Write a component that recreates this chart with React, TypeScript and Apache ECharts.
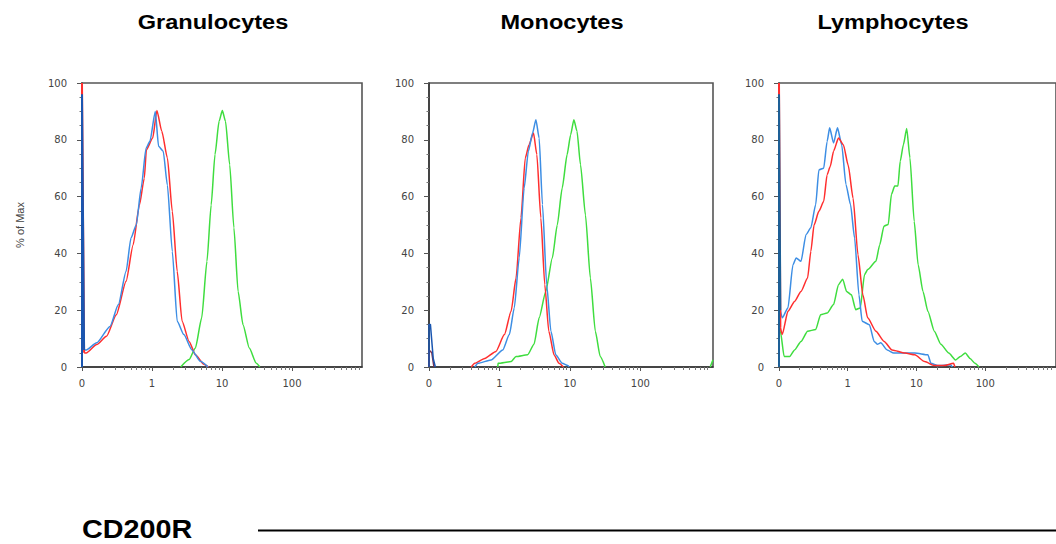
import React, { useEffect, useRef } from "react";
import * as echarts from "echarts";

// x values are positions on the biexponential axis in decade units: 0 -> "0", 1 -> "1", 2 -> "10", 3 -> "100"
const xTickValues = [0, 1, 2, 3];
const xTickLabels = ["0", "1", "10", "100"];
const minorFactors = [2, 3, 4, 5, 6, 7, 8, 9];

const titles = ["Granulocytes", "Monocytes", "Lymphocytes"];

// Granulocytes
const granRedSpike = [[0, 0], [0, 100], [0.03, 5]];
const granBlueSpike = [[0, 0], [0, 96], [0.03, 6]];
const granRed = [[0.03, 5], [0.06, 4.9], [0.21, 7.9], [0.35, 10.8], [0.49, 18.4], [0.63, 30.2], [0.73, 43], [0.82, 57], [0.89, 66.5], [0.92, 76.5], [1.01, 80.6], [1.07, 90.3], [1.14, 83], [1.22, 73.6], [1.29, 54.8], [1.36, 33.7], [1.43, 16.1], [1.53, 9], [1.62, 4.3], [1.74, 1], [1.81, 0]];
const granBlue = [[0.03, 6], [0.06, 6], [0.21, 8.5], [0.4, 14.3], [0.52, 22], [0.63, 33.7], [0.7, 45.4], [0.775, 50], [0.845, 63], [0.915, 77], [0.97, 79.5], [1.047, 90], [1.094, 77.7], [1.16, 76], [1.22, 64], [1.29, 40.7], [1.36, 16.1], [1.455, 11.4], [1.57, 6], [1.69, 2], [1.8, 0]];
const granGreen = [[1.41, 0], [1.53, 2.6], [1.62, 6.7], [1.71, 17.3], [1.785, 37.2], [1.845, 57], [1.9, 74.8], [1.958, 86.5], [2.005, 90.3], [2.05, 86.5], [2.11, 71.2], [2.17, 49], [2.23, 26.6], [2.3, 14.9], [2.39, 6.7], [2.49, 1.3], [2.54, 0]];

// Monocytes
const monoRedSpike = [[0, 0], [0, 6], [0.04, 5], [0.07, 0]];
const monoBlueSpike = [[0, 0], [0, 15], [0.02, 15], [0.06, 3], [0.09, 0]];
const monoRed = [[0.6, 0], [0.65, 1.3], [0.79, 3], [0.95, 5.5], [1.07, 11.4], [1.165, 19.6], [1.235, 31.3], [1.305, 52.5], [1.366, 73.6], [1.42, 78.3], [1.483, 82.4], [1.53, 74.8], [1.587, 52.5], [1.643, 29], [1.7, 12.6], [1.775, 4.2], [1.845, 1.3], [1.905, 0]];
const monoBlue = [[0.65, 0], [0.695, 1.3], [0.88, 2.5], [1.047, 6], [1.14, 11.4], [1.21, 20.8], [1.28, 38.4], [1.35, 63], [1.41, 76], [1.47, 82.4], [1.517, 87.1], [1.563, 80.6], [1.61, 57.2], [1.67, 29], [1.73, 12.6], [1.8, 4.2], [1.89, 1.3], [1.97, 0.5], [1.99, 0]];
const monoGreen = [[0.976, 0], [0.98, 1.3], [1.165, 1.9], [1.235, 3.7], [1.4, 4.3], [1.49, 8], [1.563, 17.3], [1.657, 26.6], [1.75, 38.4], [1.82, 50], [1.89, 63], [1.96, 74.8], [2.01, 81.8], [2.056, 87.1], [2.1, 83], [2.15, 71.2], [2.22, 53.5], [2.29, 31.3], [2.36, 12.6], [2.43, 3.7], [2.5, 0]];
const monoGreenEdge = [[3.99, 0], [4.03, 2.5]];

// Lymphocytes
const lymphRedSpike = [[0, 0], [0, 100], [0.02, 14]];
const lymphBlueSpike = [[0, 0], [0, 96], [0.02, 20]];
const lymphRed = [[0.02, 14], [0.047, 11.4], [0.13, 19.6], [0.227, 23.1], [0.32, 26.6], [0.416, 31.3], [0.463, 40.7], [0.51, 50], [0.58, 54.8], [0.65, 58.3], [0.7, 67.7], [0.745, 70.6], [0.794, 76], [0.865, 80.6], [0.936, 78.3], [1.007, 71], [1.078, 59.4], [1.149, 39.5], [1.22, 25.4], [1.29, 17.3], [1.41, 12.6], [1.53, 9], [1.645, 6], [1.835, 4.9], [1.976, 4.3], [2.12, 1.9], [2.26, 0.5], [2.4, 0.5], [2.54, 1.3], [2.56, 0]];
const lymphBlue = [[0.02, 20], [0.047, 17.3], [0.13, 20.8], [0.203, 36], [0.25, 38.4], [0.32, 37.2], [0.393, 46.6], [0.463, 49], [0.534, 57.2], [0.58, 69.4], [0.65, 70], [0.7, 79.4], [0.737, 84.2], [0.794, 78.9], [0.851, 84.2], [0.912, 78.3], [0.974, 64.3], [1.04, 57.2], [1.1, 45.4], [1.163, 25.4], [1.21, 16.1], [1.315, 14.9], [1.385, 9], [1.43, 8], [1.48, 8.5], [1.574, 6], [1.67, 4.9], [1.976, 4.9], [2.166, 4.3], [2.21, 1.3], [2.31, 0.5], [2.5, 0.8], [2.52, 0]];
const lymphGreen = [[0, 16], [0.02, 12.6], [0.075, 3.7], [0.156, 3.7], [0.227, 6], [0.32, 9], [0.416, 12.6], [0.534, 13.2], [0.605, 18.4], [0.7, 19], [0.794, 22], [0.865, 29], [0.927, 30.9], [0.983, 26.6], [1.054, 25.4], [1.116, 20.2], [1.182, 20.8], [1.244, 32.5], [1.29, 34.3], [1.41, 37.2], [1.465, 43], [1.527, 49.6], [1.589, 50.2], [1.636, 60.8], [1.683, 63.7], [1.73, 63.7], [1.764, 72.5], [1.81, 78.3], [1.858, 84], [1.905, 73.6], [1.967, 51.3], [2.024, 36], [2.095, 26.6], [2.166, 19.6], [2.26, 12.6], [2.355, 8], [2.47, 4.9], [2.567, 2.5], [2.638, 3.7], [2.71, 4.9], [2.78, 3], [2.85, 1.3], [2.91, 0]];

const RED = "#ff2e2e";
const BLUE = "#3d8ee4";
const DARKBLUE = "#1a56b0";
const GREEN = "#3fdd3f";

const panels = [
  {
    title: titles[0], titleX: 213,
    grid: { left: 82, top: 83, width: 280, height: 284 }, xMax: 4.0,
    lines: [
      { data: granGreen, color: GREEN, width: 1.5, smooth: true },
      { data: granRed, color: RED, width: 1.5, smooth: true },
      { data: granBlue, color: BLUE, width: 1.5, smooth: true },
      { data: granRedSpike, color: RED, width: 2, smooth: false },
      { data: granBlueSpike, color: DARKBLUE, width: 2, smooth: false },
    ],
  },
  {
    title: titles[1], titleX: 562,
    grid: { left: 429, top: 83, width: 284, height: 284 }, xMax: 4.03,
    lines: [
      { data: monoGreen, color: GREEN, width: 1.5, smooth: true },
      { data: monoGreenEdge, color: GREEN, width: 1.5, smooth: false },
      { data: monoRed, color: RED, width: 1.5, smooth: true },
      { data: monoBlue, color: BLUE, width: 1.5, smooth: true },
      { data: monoRedSpike, color: "#7a3050", width: 1.5, smooth: false },
      { data: monoBlueSpike, color: DARKBLUE, width: 1.5, smooth: false },
    ],
  },
  {
    title: titles[2], titleX: 893,
    grid: { left: 779, top: 83, width: 284, height: 284 }, xMax: 4.03,
    lines: [
      { data: lymphGreen, color: GREEN, width: 1.5, smooth: true },
      { data: lymphBlue, color: BLUE, width: 1.5, smooth: true },
      { data: lymphRed, color: RED, width: 1.5, smooth: true },
      { data: lymphRedSpike, color: RED, width: 2, smooth: false },
      { data: lymphBlueSpike, color: "#1d5f96", width: 2, smooth: false },
    ],
  },
];

const minorTicks: number[] = [];
xTickValues.forEach((d) => minorFactors.forEach((k) => minorTicks.push(d + Math.log10(k))));

export default function App() {
  const ref = useRef<HTMLDivElement>(null);
  useEffect(() => {
    if (!ref.current) return;
    const chart = echarts.init(ref.current, undefined, { renderer: "svg" });
    const grid: any[] = [];
    const xAxis: any[] = [];
    const yAxis: any[] = [];
    const series: any[] = [];
    const graphic: any[] = [];
    panels.forEach((p, i) => {
      grid.push({ ...p.grid, show: true, borderColor: "#555", borderWidth: 1.6, backgroundColor: "transparent" });
      xAxis.push({
        type: "value", gridIndex: i, min: 0, max: p.xMax, position: "bottom",
        axisLine: { show: true, onZero: false, lineStyle: { color: "#333", width: 1.5 } },
        axisTick: { show: true, customValues: xTickValues, length: 4, lineStyle: { color: "#555" } },
        axisLabel: {
          show: true, customValues: xTickValues, margin: 11,
          formatter: (v: number) => xTickLabels[xTickValues.indexOf(Math.round(v))] ?? "",
          fontFamily: "DejaVu Sans", fontSize: 10, color: "#444",
        },
        splitLine: { show: false },
      });
      xAxis.push({
        type: "value", gridIndex: i, min: 0, max: p.xMax, position: "bottom",
        axisLine: { show: false, onZero: false },
        axisTick: { show: true, customValues: minorTicks.filter((t) => t < p.xMax), length: 3, lineStyle: { color: "#777" } },
        axisLabel: { show: false },
        splitLine: { show: false },
      });
      yAxis.push({
        type: "value", gridIndex: i, min: 0, max: 100, interval: 20,
        axisLine: { show: true, onZero: false, lineStyle: { color: "#333", width: 1.5 } },
        axisTick: { show: true, length: 5, lineStyle: { color: "#555" } },
        minorTick: { show: true, splitNumber: 4, length: 2.5, lineStyle: { color: "#777" } },
        axisLabel: { fontFamily: "DejaVu Sans", fontSize: 10, color: "#444", margin: 15 },
        splitLine: { show: false },
        minorSplitLine: { show: false },
      });
      p.lines.forEach((l) => {
        series.push({
          type: "line", xAxisIndex: i * 2, yAxisIndex: i, data: l.data,
          showSymbol: false, symbol: "none", silent: true,
          smooth: l.smooth ? 0.2 : false, smoothMonotone: "x",
          lineStyle: { color: l.color, width: l.width },
        });
      });
      graphic.push({
        type: "text", x: p.titleX, y: 22, scaleX: 1.15,
        style: {
          text: p.title, fontFamily: "Liberation Sans, Arial, sans-serif", fontSize: 20.5, fontWeight: "bold",
          fill: "#000", align: "center", verticalAlign: "middle", textAlign: "center", textVerticalAlign: "middle",
        },
      });
    });
    graphic.push({
      type: "text", x: 20, y: 225, rotation: Math.PI / 2,
      style: {
        text: "% of Max", fontFamily: "Liberation Sans, Arial, sans-serif", fontSize: 11,
        fill: "#444", align: "center", verticalAlign: "middle", textAlign: "center", textVerticalAlign: "middle",
      },
    });
    graphic.push({
      type: "text", x: 82, y: 529.5, scaleX: 1.15,
      style: {
        text: "CD200R", fontFamily: "Liberation Sans, Arial, sans-serif", fontSize: 25, fontWeight: "bold",
        fill: "#000", align: "left", verticalAlign: "middle", textAlign: "left", textVerticalAlign: "middle",
      },
    });
    graphic.push({
      type: "line", shape: { x1: 258, y1: 530.5, x2: 1056, y2: 530.5 },
      style: { stroke: "#000", lineWidth: 2 },
    });
    chart.setOption({
      animation: false,
      backgroundColor: "#fff",
      grid, xAxis, yAxis, series, graphic,
    });
    return () => chart.dispose();
  }, []);
  return (
    <div
      ref={ref}
      style={{ position: "fixed", left: 0, top: 0, width: 1056, height: 544, background: "#fff" }}
    />
  );
}
